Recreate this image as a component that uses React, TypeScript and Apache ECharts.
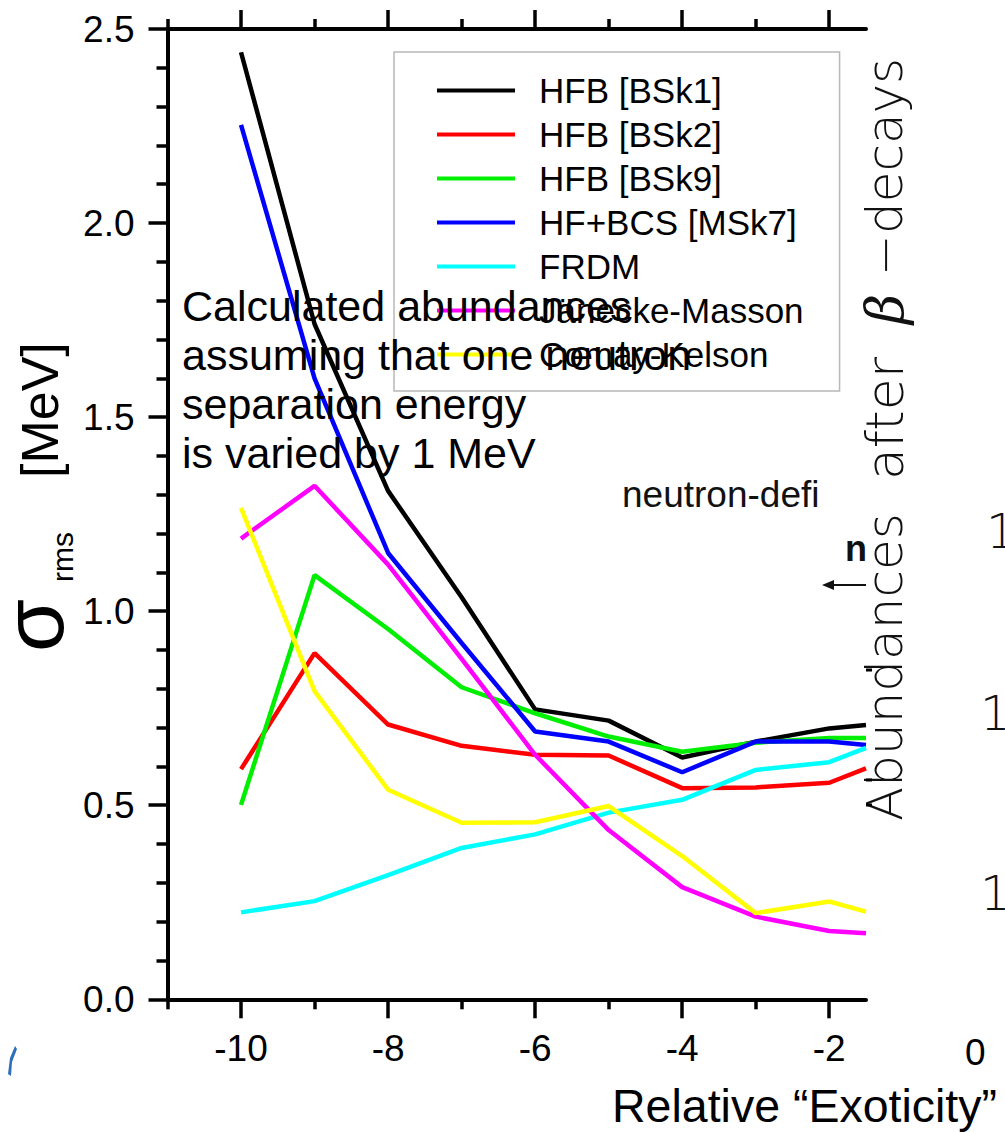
import React, { useEffect, useRef } from "react";
import * as echarts from "echarts";

// Relative exoticity of the varied nucleus (x) and rms deviation of the abundances (MeV)
const exoticity = [-10, -9, -8, -7, -6, -5, -4, -3, -2, -1.5];
const hfbBsk1 = [2.44, 1.74, 1.31, 1.036, 0.747, 0.718, 0.623, 0.664, 0.698, 0.707];
const hfbBsk2 = [0.593, 0.892, 0.708, 0.653, 0.63, 0.628, 0.544, 0.546, 0.558, 0.595];
const hfbBsk9 = [0.501, 1.093, 0.954, 0.804, 0.737, 0.677, 0.638, 0.661, 0.673, 0.673];
const hfBcsMsk7 = [2.253, 1.6, 1.15, 0.918, 0.69, 0.664, 0.585, 0.664, 0.664, 0.655];
const frdm = [0.224, 0.253, 0.32, 0.39, 0.425, 0.481, 0.514, 0.591, 0.611, 0.648];
const janeckeMasson = [1.187, 1.323, 1.12, 0.877, 0.63, 0.436, 0.289, 0.213, 0.176, 0.17];
const comayKelson = [1.266, 0.794, 0.54, 0.455, 0.456, 0.498, 0.369, 0.222, 0.252, 0.226];

const seriesNames = [
  "HFB [BSk1]",
  "HFB [BSk2]",
  "HFB [BSk9]",
  "HF+BCS [MSk7]",
  "FRDM",
  "Jänecke-Masson",
  "Comay-Kelson",
];
const seriesValues = [hfbBsk1, hfbBsk2, hfbBsk9, hfBcsMsk7, frdm, janeckeMasson, comayKelson];
const seriesColors = ["#000000", "#ff0000", "#00ee00", "#0000ff", "#00ffff", "#ff00ff", "#ffff00"];

const majorTicks = [-10, -8, -6, -4, -2];
const minorTicks = [-11, -9, -7, -5, -3];

const noteLines = [
  "Calculated abundances",
  "assuming that one neutron",
  "separation energy",
  "is varied by 1 MeV",
];

const SANS = "'Liberation Sans', Arial, sans-serif";
const THIN = "'DejaVu Sans', sans-serif";

export default function App() {
  const ref = useRef<HTMLDivElement>(null);

  useEffect(() => {
    const chart = echarts.init(ref.current as HTMLDivElement, null, { renderer: "svg" });

    const axisLine = { show: true, onZero: false, lineStyle: { color: "#000", width: 4 } };
    const baseX = {
      type: "value" as const,
      min: -11,
      max: -1.5,
      splitLine: { show: false },
      minorSplitLine: { show: false },
    };
    const tickStyle = { color: "#000", width: 3.5 };

    const rotatedText = (
      x: number,
      y: number,
      text: string,
      fontSize: number,
      extra: Record<string, unknown> = {}
    ) => ({
      type: "text",
      x,
      y,
      rotation: Math.PI / 2,
      style: { text, fontSize, fontFamily: SANS, fill: "#000", align: "left", verticalAlign: "middle", ...extra },
    });

    const plainText = (
      x: number,
      y: number,
      text: string,
      fontSize: number,
      extra: Record<string, unknown> = {}
    ) => ({
      type: "text",
      x,
      y,
      style: { text, fontSize, fontFamily: SANS, fill: "#000", align: "left", verticalAlign: "middle", ...extra },
    });

    const thin = { fontWeight: 200, fontFamily: THIN, fill: "#111" };

    const option: any = {
      animation: false,
      backgroundColor: "#ffffff",
      grid: {
        left: 167.5,
        top: 29,
        width: 698.5,
        height: 970.3,
        containLabel: false,
        outerBoundsMode: "none",
      },
      xAxis: [
        {
          ...baseX,
          position: "bottom",
          axisLine,
          axisTick: { show: true, customValues: majorTicks, length: 19, lineStyle: tickStyle },
          axisLabel: {
            show: true,
            customValues: majorTicks,
            fontSize: 37,
            fontFamily: SANS,
            color: "#000",
            margin: 31,
          },
        },
        {
          ...baseX,
          position: "bottom",
          axisLine: { show: false },
          axisTick: { show: true, customValues: minorTicks, length: 10, lineStyle: tickStyle },
          axisLabel: { show: false },
        },
        {
          ...baseX,
          position: "top",
          axisLine,
          axisTick: { show: true, customValues: majorTicks, length: 19, lineStyle: tickStyle },
          axisLabel: { show: false },
        },
        {
          ...baseX,
          position: "top",
          axisLine: { show: false },
          axisTick: { show: true, customValues: minorTicks, length: 10, lineStyle: tickStyle },
          axisLabel: { show: false },
        },
      ],
      yAxis: {
        type: "value",
        min: 0,
        max: 2.5,
        interval: 0.5,
        axisLine,
        axisTick: { show: true, length: 19, lineStyle: tickStyle },
        minorTick: { show: true, splitNumber: 5, length: 11, lineStyle: tickStyle },
        splitLine: { show: false },
        minorSplitLine: { show: false },
        axisLabel: {
          fontSize: 37,
          fontFamily: SANS,
          color: "#000",
          margin: 33,
          formatter: (v: number) => v.toFixed(1),
        },
      },
      legend: {
        orient: "vertical",
        left: 394,
        top: 52,
        padding: [21, 36, 19, 43],
        borderColor: "#b8b8b8",
        borderWidth: 1.5,
        backgroundColor: "transparent",
        icon: "rect",
        itemWidth: 78,
        itemHeight: 4,
        itemGap: 9,
        data: seriesNames,
        textStyle: {
          fontSize: 35,
          lineHeight: 34,
          fontFamily: SANS,
          color: "#000",
          padding: [0, 0, 0, 19],
        },
      },
      series: seriesNames.map((name, i) => ({
        name,
        type: "line",
        xAxisIndex: 0,
        yAxisIndex: 0,
        symbol: "none",
        clip: true,
        color: seriesColors[i],
        lineStyle: { color: seriesColors[i], width: 4.5 },
        data: exoticity.map((x, j) => [x, seriesValues[i][j]]),
      })),
      graphic: [
        // annotation written over the plot
        {
          type: "text",
          left: 182,
          top: 281,
          z: 100,
          style: {
            text: noteLines.join("\n"),
            fontSize: 43,
            lineHeight: 49,
            fontFamily: SANS,
            fill: "#000",
          },
        },
        // y-axis title: sigma_rms [MeV]
        rotatedText(33, 652, "σ", 86),
        rotatedText(62, 582, "rms", 30),
        rotatedText(40, 478, "[MeV]", 52),
        // neighbouring panel: rotated title
        rotatedText(885, 821, "Abundances", 50, thin),
        rotatedText(885, 480, "after", 52, thin),
        rotatedText(885, 324, "β", 52, { fontStyle: "italic", fontFamily: "'DejaVu Serif', serif", fill: "#111" }),
        rotatedText(885, 276, "−decays", 50, thin),
        // neighbouring panel: annotation and arrow
        plainText(622, 494, "neutron-defi", 37, { fill: "#111" }),
        plainText(845, 548, "n", 36, { fontWeight: "bold", fill: "#111" }),
        {
          type: "line",
          shape: { x1: 831, y1: 585, x2: 866, y2: 585 },
          style: { stroke: "#111", lineWidth: 2 },
        },
        {
          type: "polygon",
          shape: { points: [[822, 585], [834, 580], [834, 590]] },
          style: { fill: "#111" },
        },
        // neighbouring panel: tick fragments and labels
        { type: "line", shape: { x1: 866, y1: 670, x2: 872, y2: 670 }, style: { stroke: "#000", lineWidth: 3 } },
        { type: "line", shape: { x1: 866, y1: 780, x2: 872, y2: 780 }, style: { stroke: "#000", lineWidth: 3 } },
        { type: "line", shape: { x1: 866, y1: 805, x2: 872, y2: 805 }, style: { stroke: "#000", lineWidth: 3 } },
        plainText(986, 531, "10", 48, thin),
        plainText(980, 713, "10", 48, thin),
        plainText(980, 893, "10", 48, thin),
        plainText(965, 1052, "0", 37),
        plainText(612, 1106, "Relative “Exoticity”", 46.5),
        // corner logo fragment
        {
          type: "polygon",
          shape: { points: [[15, 1046], [10, 1058], [8, 1074], [11, 1076], [12, 1062], [17, 1049]] },
          style: { fill: "#2f6fb8" },
        },
      ],
    };

    chart.setOption(option);
    return () => chart.dispose();
  }, []);

  return (
    <div
      ref={ref}
      style={{ position: "absolute", left: 0, top: 0, width: 1005, height: 1132, background: "#fff" }}
    />
  );
}
